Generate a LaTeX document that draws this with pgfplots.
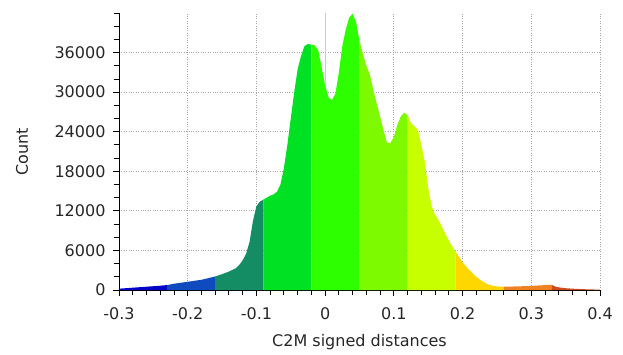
\documentclass[border=0pt]{standalone}
\usepackage{fontspec}
\setmainfont{DejaVu Sans}
\usepackage{pgfplots}
\usepackage{pgfplotstable}
\pgfplotsset{compat=1.18}
\definecolor{c1}{RGB}{0,0,200}
\definecolor{c2}{RGB}{15,75,190}
\definecolor{c3}{RGB}{20,140,100}
\definecolor{c4}{RGB}{0,225,35}
\definecolor{c5}{RGB}{45,255,0}
\definecolor{c6}{RGB}{125,250,0}
\definecolor{c7}{RGB}{200,255,0}
\definecolor{c8}{RGB}{255,215,0}
\definecolor{c9}{RGB}{238,130,35}
\definecolor{c10}{RGB}{205,75,30}
\pgfplotstableread{
x y
-0.300 200
-0.280 350
-0.260 500
-0.240 650
-0.230 750
-0.220 950
-0.200 1250
-0.180 1550
-0.160 2050
-0.150 2400
-0.140 2800
-0.130 3300
-0.125 3800
-0.120 4500
-0.115 5500
-0.110 7300
-0.105 10500
-0.100 12700
-0.095 13400
-0.090 13700
-0.085 14000
-0.080 14300
-0.075 14500
-0.070 14900
-0.065 16000
-0.060 18500
-0.055 22000
-0.050 26000
-0.045 30000
-0.040 33500
-0.035 35500
-0.030 37000
-0.025 37300
-0.020 37200
-0.015 37100
-0.010 36300
-0.005 33700
0.000 31000
0.005 29200
0.010 28800
0.015 29800
0.020 33000
0.025 37000
0.030 39500
0.035 41300
0.040 41900
0.045 40600
0.050 37800
0.055 35800
0.060 34000
0.065 32700
0.070 30400
0.075 28300
0.080 26300
0.085 24200
0.090 22300
0.095 22300
0.100 23200
0.105 25000
0.110 26300
0.115 26900
0.120 26500
0.125 25300
0.130 24800
0.135 24300
0.140 22000
0.145 19500
0.150 15500
0.155 12700
0.160 11400
0.165 10600
0.170 9600
0.175 8500
0.180 7500
0.185 6600
0.190 5800
0.195 5000
0.200 4200
0.205 3600
0.210 3000
0.215 2500
0.220 2000
0.225 1600
0.230 1250
0.235 950
0.240 750
0.245 620
0.250 540
0.260 500
0.270 520
0.280 550
0.290 580
0.300 620
0.310 680
0.320 740
0.325 780
0.330 760
0.335 520
0.340 400
0.350 270
0.360 200
0.370 150
0.380 110
0.390 80
0.400 50
}\hist
\begin{document}
\begin{tikzpicture}
\begin{axis}[
  scale only axis,
  width=481pt, height=277pt,
  xmin=-0.3, xmax=0.4, ymin=0, ymax=42000,
  axis lines=left,
  axis line style={-, line width=0.9pt, black},
  scaled y ticks=false,
  scaled x ticks=false,
  xtick={-0.3,-0.2,-0.1,0,0.1,0.2,0.3,0.4},
  xticklabels={-0.3,-0.2,-0.1,0,0.1,0.2,0.3,0.4},
  ytick={0,6000,12000,18000,24000,30000,36000},
  yticklabels={0,6000,12000,18000,24000,30000,36000},
  minor xtick={-0.28,-0.26,...,0.39},
  minor ytick={2000,4000,...,42000},
  tick align=outside,
  major tick length=6pt,
  minor tick length=5pt,
  tick style={line width=0.9pt, black},
  grid=major,
  grid style={dotted, gray!70, line width=0.8pt},
  tick label style={font=\fontsize{16}{19}\selectfont, text=black!85},
  xticklabel style={yshift=-8pt},
  yticklabel style={xshift=-4pt},
  xlabel={C2M signed distances},
  ylabel={Count},
  label style={font=\fontsize{16}{19}\selectfont, text=black!85},
  xlabel style={at={(axis description cs:0.5,0)}, anchor=center, yshift=-52pt},
  ylabel style={at={(axis description cs:-0.2017,0.5)}, anchor=center},
  clip=false,
]
\addplot[draw=gray!40, line width=1.2pt] coordinates {(0,0) (0,42000)};
\addplot[fill=c1, draw=none, restrict x to domain=-0.3001:-0.2299] table {\hist} \closedcycle;
\addplot[fill=c2, draw=none, restrict x to domain=-0.2301:-0.1599] table {\hist} \closedcycle;
\addplot[fill=c3, draw=none, restrict x to domain=-0.1601:-0.0899] table {\hist} \closedcycle;
\addplot[fill=c4, draw=none, restrict x to domain=-0.0901:-0.0199] table {\hist} \closedcycle;
\addplot[fill=c5, draw=none, restrict x to domain=-0.0201:0.0501] table {\hist} \closedcycle;
\addplot[fill=c6, draw=none, restrict x to domain=0.0499:0.1201] table {\hist} \closedcycle;
\addplot[fill=c7, draw=none, restrict x to domain=0.1199:0.1901] table {\hist} \closedcycle;
\addplot[fill=c8, draw=none, restrict x to domain=0.1899:0.2601] table {\hist} \closedcycle;
\addplot[fill=c9, draw=none, restrict x to domain=0.2599:0.3301] table {\hist} \closedcycle;
\addplot[fill=c10, draw=none, restrict x to domain=0.3299:0.4001] table {\hist} \closedcycle;
\end{axis}
\path (current axis.south west) ++(-119pt,-64pt) rectangle ++(623pt,354pt);
\end{tikzpicture}
\end{document}
